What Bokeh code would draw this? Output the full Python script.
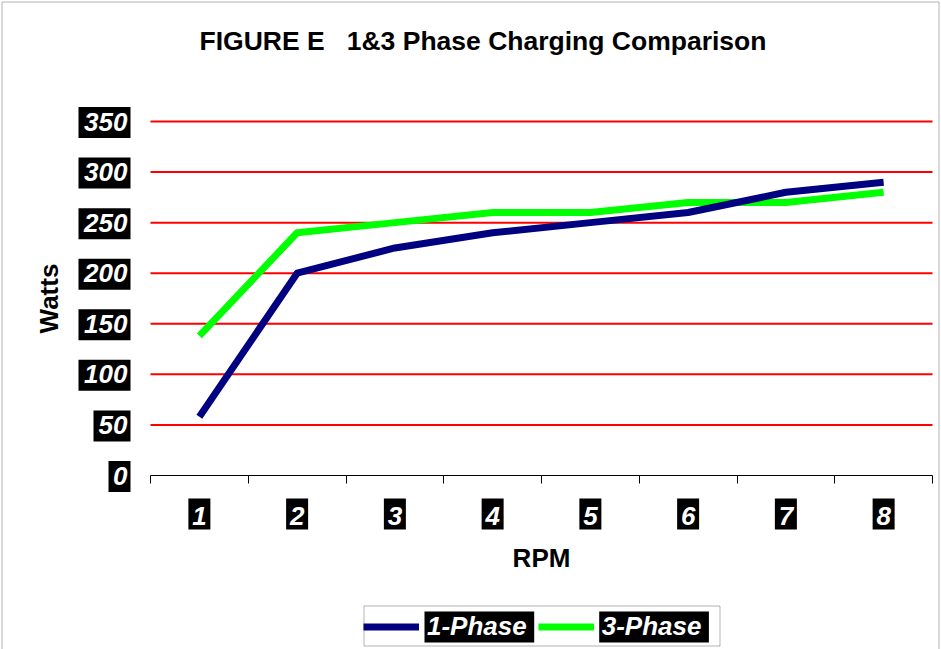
from bokeh.plotting import figure
from bokeh.models import FixedTicker, BoxAnnotation, Legend, LegendItem, Range1d, Label
from bokeh.embed import file_html
from bokeh.resources import INLINE

# ---- data ----
rpm = [1, 2, 3, 4, 5, 6, 7, 8]
rpm_labels = ["1", "2", "3", "4", "5", "6", "7", "8"]
one_phase = [58, 200, 225, 240, 250, 260, 280, 290]
three_phase = [138, 240, 250, 260, 260, 270, 270, 280]
watts_ticks = [0, 50, 100, 150, 200, 250, 300, 350]
title_text = "FIGURE E\u00a0\u00a0\u00a01&3 Phase Charging Comparison"

FONT = "Liberation Sans"
CW, CH = 940, 649                 # canvas size (frame covers the whole canvas)
PL, PR, PT, PB = 150, 932, 121, 475   # plot-area pixel box
XA, XB, YA, YB = 0.5, 8.5, 0, 350     # plot-area data box
ppx = (PR - PL) / (XB - XA)
ppy = (PB - PT) / (YB - YA)

x_range = Range1d(XA - PL / ppx, XB + (CW - PR) / ppx)
y_range = Range1d(YA - (CH - PB) / ppy, YB + PT / ppy)

def dx(px):
    return XA + (px - PL) / ppx

def dy(py):
    return YA + (PB - py) / ppy

p = figure(width=CW, height=CH, x_range=x_range, y_range=y_range,
           output_backend="svg", toolbar_location=None, min_border=0)
p.title.visible = False
p.outline_line_color = None
p.background_fill_color = "white"
p.border_fill_color = "white"
p.xgrid.visible = False
p.ygrid.visible = False

def black_box(l, r, t, b):
    p.add_layout(BoxAnnotation(left=dx(l), right=dx(r), top=dy(t), bottom=dy(b),
                               fill_color="black", fill_alpha=1, line_color=None,
                               level="underlay"))

# outer chart border (bottom edge lies below the window)
p.add_layout(BoxAnnotation(left=dx(1.5), right=dx(938.5), top=dy(1.5), bottom=dy(CH + 20),
                           fill_alpha=0, line_color="black", line_width=1))

# title
p.add_layout(Label(x=dx(199), y=dy(40), text=title_text, text_align="left",
                   text_baseline="alphabetic", text_font=FONT, text_font_size="26.5px",
                   text_font_style="bold", text_color="black"))

# horizontal grid lines at the y ticks
gt = watts_ticks[1:]
p.segment(x0=[XA] * len(gt), x1=[XB] * len(gt), y0=gt, y1=gt,
          line_color="#FF0000", line_width=2)

# x axis (fixed at y = 0)
xa = p.xaxis[0]
xa.fixed_location = 0
xa.bounds = (XA, XB)
xa.ticker = FixedTicker(ticks=rpm, minor_ticks=[r - 0.5 for r in rpm] + [rpm[-1] + 0.5])
xa.major_label_overrides = {r: s for r, s in zip(rpm, rpm_labels)}
xa.major_tick_out = 0
xa.major_tick_in = 0
xa.minor_tick_out = 8
xa.minor_tick_in = 0
xa.minor_tick_line_color = "black"
xa.axis_line_color = "black"
xa.major_label_standoff = 23
xa.major_label_text_font = FONT
xa.major_label_text_font_size = "26px"
xa.major_label_text_font_style = "bold italic"
xa.major_label_text_color = "white"
xa.axis_label = "RPM"
xa.axis_label_text_font = FONT
xa.axis_label_text_font_size = "26px"
xa.axis_label_text_font_style = "bold"
xa.axis_label_text_color = "black"
xa.axis_label_standoff = 15

# y axis (fixed at left edge of plot area)
ya = p.yaxis[0]
ya.fixed_location = XA
ya.bounds = (YA, YB)
ya.ticker = FixedTicker(ticks=watts_ticks)
ya.axis_line_color = None
ya.major_tick_line_color = None
ya.minor_tick_line_color = None
ya.major_label_standoff = 17
ya.major_label_text_font = FONT
ya.major_label_text_font_size = "26px"
ya.major_label_text_font_style = "bold italic"
ya.major_label_text_color = "white"
ya.axis_label = "Watts"
ya.axis_label_text_font = FONT
ya.axis_label_text_font_size = "26px"
ya.axis_label_text_font_style = "bold"
ya.axis_label_text_color = "black"
ya.axis_label_standoff = 17

# black boxes behind tick labels
for v in watts_ticks:
    wbox = 15 * len(str(v)) + 7
    ty = PB - v * ppy + 1
    black_box(PL - 20 - wbox, PL - 20, ty - 15.5, ty + 15.5)
for r in rpm:
    cx = PL + (r - XA) * ppx
    black_box(cx - 11, cx + 11, PB + 23, PB + 54)

# series (1-Phase drawn on top)
r2 = p.line(rpm, three_phase, line_color="#00FF00", line_width=7, line_join="round")
r1 = p.line(rpm, one_phase, line_color="#000080", line_width=7, line_join="round")

# legend
LX, LT, LR, LBt = 363, 605, 720, 646
GW, PAD, STD, SPC, TW = 56, 5, 8, 11, 99.7
legend = Legend(items=[LegendItem(label="1-Phase", renderers=[r1]),
                       LegendItem(label="3-Phase", renderers=[r2])],
                orientation="horizontal", location=(LX, CH - LBt + 4),
                glyph_width=GW, glyph_height=31, label_height=31, label_standoff=STD,
                spacing=SPC, padding=PAD, margin=0,
                border_line_color=None, background_fill_alpha=0,
                label_text_color="white", label_text_font=FONT,
                label_text_font_size="26px", label_text_font_style="bold italic")
p.add_layout(legend)
p.add_layout(BoxAnnotation(left=dx(LX + 0.5), right=dx(LR - 0.5), top=dy(LT + 0.5),
                           bottom=dy(LBt - 0.5), fill_alpha=0, line_color="black",
                           line_width=1))
g1_end = LX + PAD + GW
t1_end = g1_end + STD + TW
g2_end = t1_end + SPC + GW
t2_end = g2_end + STD + TW
for a, b in [(g1_end, t1_end + 2), (g2_end, t2_end + 2)]:
    black_box(a, b, LT + PAD + 1, LBt - PAD + 1)

open("out.html", "w").write(file_html(p, INLINE))
